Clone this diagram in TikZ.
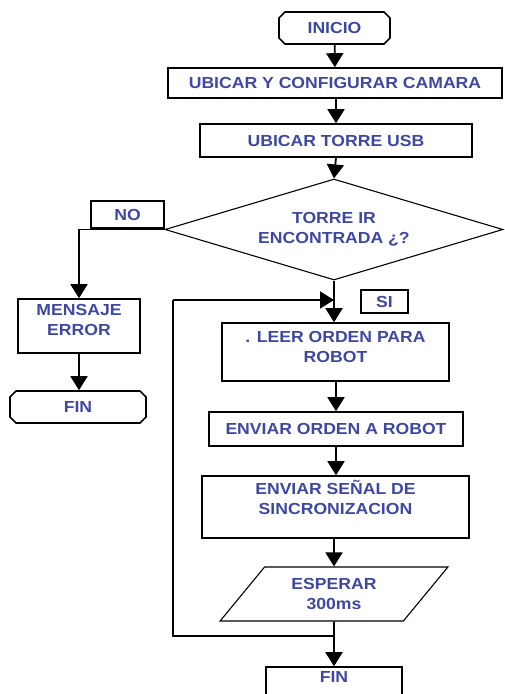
\documentclass[tikz,border=0pt]{standalone}
\usepackage{fontspec}
\newfontfamily\dfont{Liberation Sans}[FakeStretch=1.1]
\usetikzlibrary{arrows.meta,shapes.geometric,shapes.misc}
\definecolor{txtblue}{RGB}{62,72,162}
\tikzset{
  box/.style={draw, line width=1.6pt, rectangle, inner sep=0pt},
  term/.style={draw, line width=1.6pt, chamfered rectangle, chamfered rectangle xsep=3pt, chamfered rectangle ysep=3pt, inner sep=0pt},
  txt/.style={text=txtblue, font=\dfont\bfseries\fontsize{16}{20}\selectfont, align=center, inner sep=0pt},
  arr/.style={line width=1.8pt, -{Triangle[width=17pt,length=14pt]}},
  ln/.style={line width=1.8pt}
}
\begin{document}
\begin{tikzpicture}[x=1pt,y=-1pt]
\useasboundingbox (0,0) rectangle (504,694);
% nodes
\node[term, txt, minimum width=111pt, minimum height=32pt] (inicio) at (334.5,28) {INICIO};
\node[box, txt, minimum width=334pt, minimum height=30pt] (cam) at (335,83) {UBICAR Y CONFIGURAR CAMARA};
\node[box, txt, minimum width=272pt, minimum height=33pt] (usb) at (336,140.5) {UBICAR TORRE USB};
\node[draw, line width=1.1pt, diamond, aspect=3.35, minimum width=338pt, minimum height=101pt, inner sep=0pt, txt] (dec) at (334,229.5) {TORRE IR\\ENCONTRADA ¿?};
\node[box, txt, minimum width=73pt, minimum height=27pt] (no) at (127.5,214.5) {NO};
\node[box, minimum width=122pt, minimum height=54pt] (msg) at (79,326) {};
\node[txt, anchor=north] (msgt) at ([yshift=-6pt]msg.north) {MENSAJE\\ERROR};
\node[term, txt, minimum width=136pt, minimum height=32pt] (fin1) at (78,407) {FIN};
\node[box, txt, minimum width=47pt, minimum height=23pt] (si) at (384.5,301.5) {SI};
\node[box, minimum width=227pt, minimum height=58pt] (leer) at (335.5,352) {};
\node[txt, anchor=north] (leert) at ([yshift=-9pt]leer.north) {. LEER ORDEN PARA\\ROBOT};
\node[box, txt, minimum width=254pt, minimum height=34pt] (orden) at (336,429) {ENVIAR ORDEN A ROBOT};
\node[box, minimum width=267pt, minimum height=62pt] (senal) at (335.5,507) {};
\node[txt, anchor=north] (senalt) at ([yshift=-5pt]senal.north) {ENVIAR SEÑAL DE\\SINCRONIZACION};
\node[draw, line width=1.1pt, trapezium, trapezium left angle=49, trapezium right angle=131, trapezium stretches=true, minimum width=228pt, minimum height=54pt, inner sep=0pt, txt] (esp) at (334,594) {ESPERAR\\300ms};
\node[term, minimum width=136pt, minimum height=32pt] (fin2) at (334,683) {};
\node[txt] (fin2t) at (334,677) {FIN};
% coordinates
\coordinate (j) at (334,636);
\coordinate (lc) at (173,636);
\coordinate (lt) at (173,300);
\coordinate (m) at (334,300);
% connectors
\draw[arr] (inicio) -- (cam);
\draw[arr] (cam.south -| usb.north) -- (usb.north);
\draw[arr] (usb.south) -- (dec.north);
\draw[arr] (dec.west) -| (msg.north);
\draw[arr] (msg.south) -- (msg.south |- fin1.north);
\draw[arr] (dec.south) -- (dec.south |- leer.north);
\draw[ln] (j) -- (lc) -- (lt);
\draw[arr] (lt) -- (m);
\draw[arr] (leer.south -| orden.north) -- (orden.north);
\draw[arr] (orden.south) -- (orden.south |- senal.north);
\draw[arr] (senal.south -| esp.north) -- (esp.north);
\draw[arr] (esp.south) -- (fin2.north);
\end{tikzpicture}
\end{document}
